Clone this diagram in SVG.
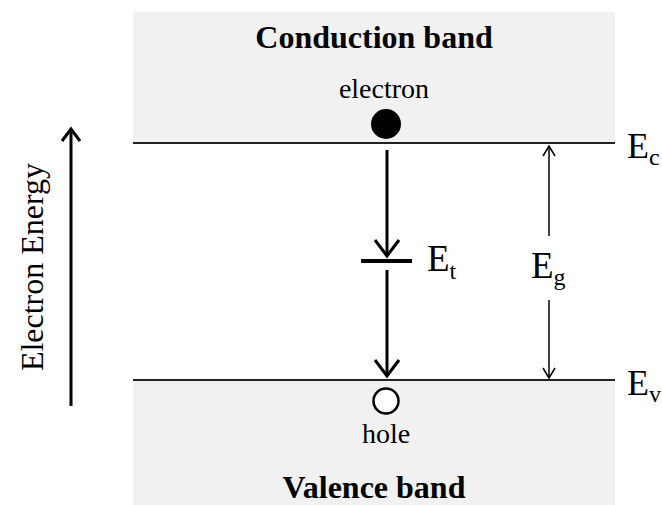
<svg xmlns="http://www.w3.org/2000/svg" width="662" height="505" viewBox="0 0 662 505">
<style>
.t{font-family:"Liberation Serif",serif;fill:#000}
.b{font-weight:bold;font-size:32px}
.band{fill:#f1f1f1}
.lvl{stroke:#222;stroke-width:2}
.arr{stroke:#000;stroke-width:3;fill:none}
.thin{stroke:#000;stroke-width:1.5;fill:none}
</style>
<rect width="662" height="505" fill="#fff"/>
<g id="conduction-band">
<rect class="band" x="133" y="12" width="482" height="131"/>
<line class="lvl" x1="133" y1="143" x2="615" y2="143"/>
<text class="t b" x="374" y="48" text-anchor="middle">Conduction band</text>
</g>
<g id="valence-band">
<rect class="band" x="133" y="380" width="482" height="125"/>
<line class="lvl" x1="133" y1="380" x2="615" y2="380"/>
<text class="t b" x="374" y="498" text-anchor="middle">Valence band</text>
</g>
<g id="electron">
<circle cx="386" cy="124" r="15" fill="#000"/>
<text class="t" x="384" y="98" font-size="28" text-anchor="middle">electron</text>
</g>
<g id="hole">
<circle cx="386" cy="401" r="12.5" fill="#fff" stroke="#000" stroke-width="2.5"/>
<text class="t" x="386" y="443" font-size="28" text-anchor="middle">hole</text>
</g>
<g id="trap-level">
<line x1="361" y1="261" x2="412" y2="261" stroke="#000" stroke-width="4"/>
<text class="t" x="427" y="271" font-size="37">E<tspan font-size="24" dy="8">t</tspan></text>
</g>
<g id="Ec"><text class="t" x="627" y="158" font-size="36">E<tspan font-size="24" dy="7">c</tspan></text></g>
<g id="Ev"><text class="t" x="627" y="395" font-size="36">E<tspan font-size="24" dy="7">v</tspan></text></g>
<g id="Eg"><text class="t" x="531" y="278" font-size="37">E<tspan font-size="24" dy="7">g</tspan></text></g>
<g id="energy-axis">
<text class="t" x="0" y="0" font-size="32" text-anchor="middle" transform="translate(43 267) rotate(-90)">Electron Energy</text>
</g>
<g id="connectors">
<line class="arr" x1="387" y1="150" x2="387" y2="256"/>
<polyline class="arr" points="375,240 387,256 399,240"/>
<line class="arr" x1="387" y1="270" x2="387" y2="376"/>
<polyline class="arr" points="375,360 387,376 399,360"/>
<line class="arr" x1="71" y1="406" x2="71" y2="130"/>
<polyline class="arr" points="62,141 71,129 80,141"/>
<line class="thin" x1="549" y1="146" x2="549" y2="236"/>
<polyline class="thin" points="543,156 549,146 555,156"/>
<line class="thin" x1="549" y1="300" x2="549" y2="378"/>
<polyline class="thin" points="543,368 549,378 555,368"/>
</g>
</svg>
